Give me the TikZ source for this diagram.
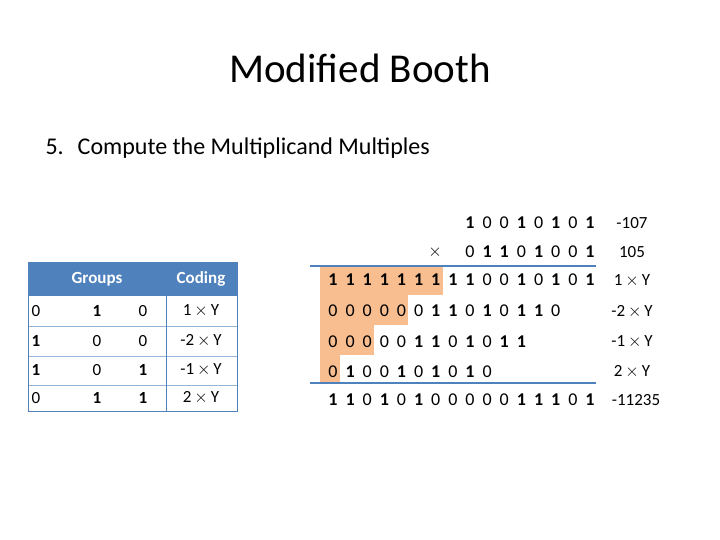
\documentclass[tikz,border=0pt]{standalone}
\usepackage{fontspec}
\setmainfont{Carlito}
\definecolor{hdr}{HTML}{4F81BD}
\definecolor{peach}{HTML}{F9BE8F}
\newcommand{\bq}[1]{\ifnum#1=1 \textbf{1}\else #1\fi}
\begin{document}
\begin{tikzpicture}[x=1pt,y=-1pt,
  bit/.style={font=\fontsize{18}{18}\selectfont,inner sep=0pt,anchor=center},
  lab/.style={font=\fontsize{17}{17}\selectfont,inner sep=0pt},
  tcell/.style={font=\fontsize{17}{17}\selectfont,inner sep=0pt},
  hcell/.style={font=\fontsize{17}{17}\selectfont\bfseries,text=white,inner sep=0pt},
  rule/.style={draw=hdr,line width=2.5pt}]
\useasboundingbox (0,0) rectangle (720,540);
\node[font=\fontsize{41}{41}\selectfont] (title) at (360,68) {Modified Booth};
\node[font=\fontsize{24}{24}\selectfont,anchor=west] (sub) at (42,148) {5.\hspace{14pt}Compute the Multiplicand Multiples};
% shading
\fill[peach] (320,267) rectangle (443,295);
\fill[peach] (320,295) rectangle (408,325);
\fill[peach] (320,325) rectangle (374,355);
\fill[peach] (320,355) rectangle (340,383);
% bits
\def\bitrow#1#2#3{\foreach \b [count=\i from #2] in {#1} {\node[bit] at ({333+(\i-1)*17.13},#3) {\bq{\b}};}}
\bitrow{1,0,0,1,0,1,0,1}{9}{223}
\bitrow{0,1,1,0,1,0,0,1}{9}{252}
\bitrow{1,1,1,1,1,1,1,1,1,0,0,1,0,1,0,1}{1}{280}
\bitrow{0,0,0,0,0,0,1,1,0,1,0,1,1,0}{1}{311}
\bitrow{0,0,0,0,0,1,1,0,1,0,1,1}{1}{342}
\bitrow{0,1,0,0,1,0,1,0,1,0}{1}{372}
\bitrow{1,1,0,1,0,1,0,0,0,0,0,1,1,1,0,1}{1}{400}
\node[bit] (times) at (435,252) {$\times$};
\coordinate (l1a) at (310,266); \coordinate (l1b) at (596,266);
\coordinate (l2a) at (310,383); \coordinate (l2b) at (596,383);
\draw[rule] (l1a) -- (l1b);
\draw[rule] (l2a) -- (l2b);
\node[lab] (r1) at (632,223) {-107};
\node[lab] (r2) at (632,252) {105};
\node[lab] (r3) at (632,281) {1$\,\times\,$Y};
\node[lab] (r4) at (632,312) {-2$\,\times\,$Y};
\node[lab] (r5) at (632,342) {-1$\,\times\,$Y};
\node[lab] (r6) at (632,372) {2$\,\times\,$Y};
\node[lab] (r7) at (636,400) {-11235};
% table
\fill[hdr] (28,262) rectangle (237,296);
\node[hcell] (hg) at (97,279) {Groups};
\node[hcell] (hc) at (201,279) {Coding};
\foreach \y in {326,356,385} \draw[hdr!60,line width=1pt] (28,\y) -- (237,\y);
\draw[hdr,line width=1pt] (28,262) rectangle (237,411);
\draw[hdr,line width=1pt] (166,296) -- (166,411);
\foreach \a/\bb/\c/\d/\y in {0/1/0/1/311,1/0/0/-2/341,1/0/1/-1/370,0/1/1/2/398}{
  \node[tcell] at (36,\y) {\bq{\a}};
  \node[tcell] at (97,\y) {\bq{\bb}};
  \node[tcell] at (143,\y) {\bq{\c}};
  \node[tcell] at (201,\y) {\d$\,\times\,$Y};
}
\end{tikzpicture}
\end{document}
